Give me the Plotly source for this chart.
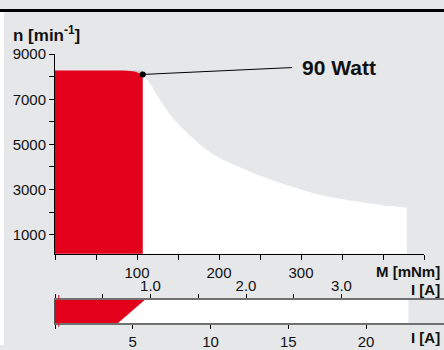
import plotly.graph_objects as go

# ---------------- data ----------------
# main diagram: torque M [mNm] vs speed n [min^-1]
red_M = [0, 85, 97, 107, 107]
red_n = [8277, 8277, 8230, 8100, 150]
shade_M = [85, 107, 107]
shade_n = [8277, 8277, 8100]
curve_M = [107, 116, 124, 144, 165, 185, 205, 226, 245, 266, 287, 315, 356, 396, 429]
curve_n = [8100, 7700, 7200, 6150, 5380, 4750, 4320, 3980, 3690, 3400, 3150, 2830, 2530, 2320, 2190]
power_point_M = [107]
power_point_n = [8100]
label_M = 289
label_n = 8404
power_label = "90 Watt"

x_tickvals = [0, 50, 100, 150, 200, 250, 300, 350, 400, 450]
x_ticktext = ["", "", "100", "", "200", "", "300", "", "", ""]
y_tickvals = [1000, 2000, 3000, 4000, 5000, 6000, 7000, 8000, 9000]
y_ticktext = ["1000", "", "3000", "", "5000", "", "7000", "", "9000"]

# current bar: current I [A]
bar_I_end = 3.70          # end of white band (top scale)
red_I_top = 0.94          # red band top edge (top scale)
red_I_bottom = 0.66       # red band bottom edge (top scale)
noload_I = 0.04
top_I_tickvals = [0, 0.5, 1.0, 1.5, 2.0, 2.5, 3.0]
top_I_ticktext = ["", "", "1.0", "", "2.0", "", "3.0"]
bot_I_tickvals = [0, 5, 10, 15, 20]
bot_I_ticktext = ["", "5", "10", "15", "20"]

# ---------------- layout helpers ----------------
W, H = 444, 350
def px(x):
    return x / W
def py(y):
    return 1 - y / H

BG = "#e6e7e9"
RED = "#e2001a"
FONT = "Liberation Sans, Arial, Helvetica, sans-serif"

fig = go.Figure()

# white operating region under the power curve
fig.add_trace(go.Scatter(x=curve_M, y=curve_n, mode="lines", line=dict(width=0, color="white", shape="spline"),
                         fill="tozeroy", fillcolor="white", xaxis="x", yaxis="y", hoverinfo="skip"))
# darker shading above red corner
fig.add_trace(go.Scatter(x=shade_M, y=shade_n, mode="lines", line=dict(width=0, color="#c9cacc"),
                         fill="toself", fillcolor="#c9cacc", xaxis="x", yaxis="y", hoverinfo="skip"))
# red continuous operation region
fig.add_trace(go.Scatter(x=red_M, y=red_n, mode="lines", line=dict(width=0, color=RED),
                         fill="tozeroy", fillcolor=RED, xaxis="x", yaxis="y", hoverinfo="skip"))
# leader line to label
fig.add_trace(go.Scatter(x=[power_point_M[0], label_M], y=[power_point_n[0], label_n], mode="lines",
                         line=dict(width=1, color="black"), xaxis="x", yaxis="y", hoverinfo="skip",
                         cliponaxis=False))
# power point marker
fig.add_trace(go.Scatter(x=power_point_M, y=power_point_n, mode="markers",
                         marker=dict(size=6, color="black"), xaxis="x", yaxis="y", hoverinfo="skip",
                         cliponaxis=False))

# current bar: white band
fig.add_trace(go.Scatter(x=[0, bar_I_end, bar_I_end, 0], y=[0, 0, 1, 1], mode="lines",
                         line=dict(width=0, color="white"), fill="toself", fillcolor="white",
                         xaxis="x2", yaxis="y2", hoverinfo="skip"))
# current bar: red band
fig.add_trace(go.Scatter(x=[0, red_I_top, red_I_bottom, 0], y=[1, 1, 0, 0], mode="lines",
                         line=dict(width=0, color=RED), fill="toself", fillcolor=RED,
                         xaxis="x2", yaxis="y2", hoverinfo="skip"))
# invisible anchor trace so the lower current scale is drawn
fig.add_trace(go.Scatter(x=[bot_I_tickvals[0]], y=[0], mode="markers", marker=dict(opacity=0),
                         xaxis="x3", yaxis="y2", hoverinfo="skip"))

tickfont = dict(family=FONT, size=15, color="#111111")

fig.update_layout(
    width=W, height=H, autosize=False,
    margin=dict(l=0, r=0, t=0, b=0, pad=0),
    paper_bgcolor=BG, plot_bgcolor="rgba(0,0,0,0)",
    showlegend=False,
    font=dict(family=FONT, color="#111111"),
    xaxis=dict(domain=[px(55), px(424)], range=[0, 450], anchor="y",
               showgrid=False, zeroline=False, showline=True, linecolor="black", linewidth=1,
               ticks="outside", ticklen=5, tickcolor="black", tickwidth=1,
               tickvals=x_tickvals, ticktext=x_ticktext, tickfont=tickfont),
    yaxis=dict(domain=[py(255), py(47)], range=[150, 9000], anchor="x",
               showgrid=False, zeroline=False, showline=True, linecolor="black", linewidth=1,
               ticks="outside", ticklen=5, tickcolor="black", tickwidth=1,
               tickvals=y_tickvals, ticktext=y_ticktext, tickfont=tickfont),
    xaxis2=dict(domain=[px(55), 1.0], range=[0, 389 / 95.5], anchor="y2", side="top",
                showgrid=False, zeroline=False, showline=True, linecolor="#707070", linewidth=2,
                ticks="outside", ticklen=4, tickcolor="black", tickwidth=1,
                tickvals=top_I_tickvals, ticktext=top_I_ticktext, tickfont=tickfont,
                ticklabelstandoff=-3),
    xaxis3=dict(domain=[px(55), 1.0], range=[0, 389 / 15.55], anchor="y2", side="bottom",
                overlaying="x2",
                showgrid=False, zeroline=False, showline=True, linecolor="#707070", linewidth=2,
                ticks="outside", ticklen=4, tickcolor="black", tickwidth=1,
                tickvals=bot_I_tickvals, ticktext=bot_I_ticktext, tickfont=tickfont),
    yaxis2=dict(domain=[py(327), py(303)], range=[0, 1], anchor="x2",
                showgrid=False, zeroline=False, showline=True, linecolor="#555555", linewidth=1,
                showticklabels=False, ticks=""),
)

# top black bar and left white strip
fig.add_shape(type="rect", xref="paper", yref="paper", x0=0, x1=1, y0=py(3), y1=1,
              fillcolor="black", line=dict(width=0), layer="above")
fig.add_shape(type="rect", xref="paper", yref="paper", x0=0, x1=px(4), y0=0, y1=py(3),
              fillcolor="white", line=dict(width=0), layer="above")
# no-load current marker on the bar
fig.add_shape(type="line", xref="x2", yref="paper", x0=noload_I, x1=noload_I, y0=py(331), y1=py(298),
              line=dict(color=RED, width=1), layer="above")

bold = dict(family="Liberation Sans, Arial, sans-serif", color="#111111")
fig.add_annotation(text="<b>n [min<sup>-1</sup>]</b>", xref="paper", yref="paper",
                   x=px(11), y=py(13), xanchor="left", yanchor="top", showarrow=False,
                   font=dict(size=17, **bold))
fig.add_annotation(text="<b>" + power_label + "</b>", xref="x", yref="y",
                   x=label_M, y=label_n, xanchor="left", yanchor="middle", xshift=8, showarrow=False,
                   font=dict(size=21, **bold))
fig.add_annotation(text="<b>M [mNm]</b>", xref="paper", yref="paper",
                   x=px(442), y=py(273), xanchor="right", yanchor="middle", showarrow=False,
                   font=dict(size=15, **bold))
fig.add_annotation(text="<b>I [A]</b>", xref="paper", yref="paper",
                   x=px(442), y=py(292), xanchor="right", yanchor="middle", showarrow=False,
                   font=dict(size=15, **bold))
fig.add_annotation(text="<b>I [A]</b>", xref="paper", yref="paper",
                   x=px(442), y=py(342), xanchor="right", yanchor="middle", showarrow=False,
                   font=dict(size=15, **bold))

fig.write_html(
    "out.html",
    config={"displayModeBar": False},
    post_script=(
        "document.documentElement.style.margin='0';"
        "document.body.style.margin='0';document.body.style.overflow='hidden';"
        "var d=document.getElementsByClassName('plotly-graph-div')[0];"
        "d.style.position='fixed';d.style.top='0px';d.style.left='0px';"
    ),
)
